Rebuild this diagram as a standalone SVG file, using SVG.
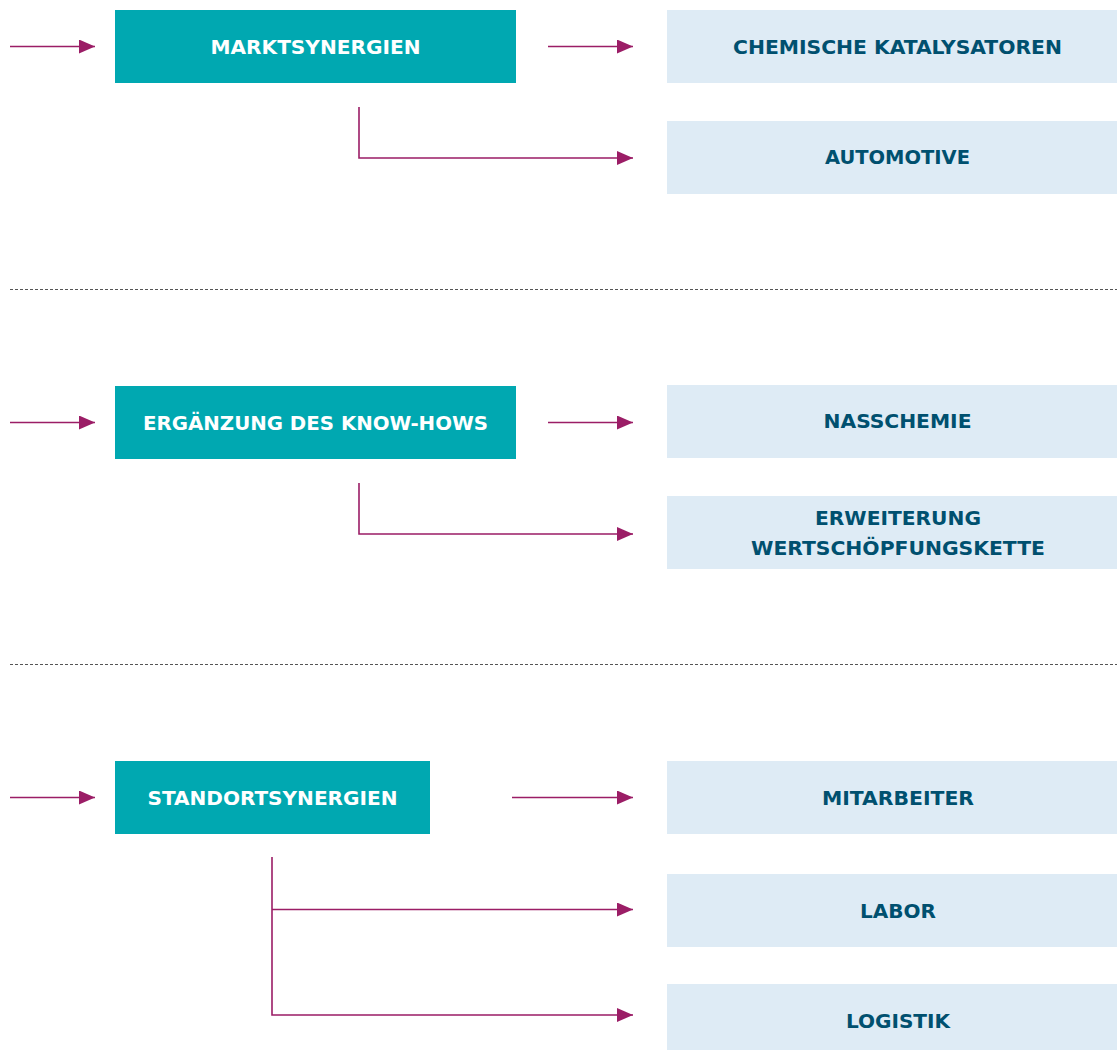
<svg xmlns="http://www.w3.org/2000/svg" width="1117" height="1050" viewBox="0 0 1117 1050">
<style>
.main{fill:#00a8b1}
.sub{fill:#deebf5}
.tw{font-family:"DejaVu Sans Condensed","DejaVu Sans",sans-serif;font-weight:bold;font-size:20px;fill:#ffffff;text-anchor:middle}
.tb{font-family:"DejaVu Sans Condensed","DejaVu Sans",sans-serif;font-weight:bold;font-size:20px;fill:#00506f;text-anchor:middle}
.ln{fill:none;stroke:#9b1d66;stroke-width:1.6}
.sep{stroke:#555;stroke-width:1;stroke-dasharray:3 2}
</style>
<defs>
<marker id="ah" markerUnits="userSpaceOnUse" markerWidth="16" markerHeight="14" refX="16" refY="7" orient="auto">
<path d="M0,0 L16,7 L0,14 Z" fill="#9b1d66"/>
</marker>
</defs>
<rect width="1117" height="1050" fill="#ffffff"/>
<g id="separators">
<line class="sep" x1="10" y1="289.5" x2="1117" y2="289.5"/>
<line class="sep" x1="10" y1="664.5" x2="1117" y2="664.5"/>
</g>
<g id="connectors">
<line class="ln" x1="10" y1="46.5" x2="95" y2="46.5" marker-end="url(#ah)"/>
<line class="ln" x1="548" y1="46.5" x2="633" y2="46.5" marker-end="url(#ah)"/>
<polyline class="ln" points="359,107 359,158 633,158" marker-end="url(#ah)"/>
<line class="ln" x1="10" y1="422.5" x2="95" y2="422.5" marker-end="url(#ah)"/>
<line class="ln" x1="548" y1="422.5" x2="633" y2="422.5" marker-end="url(#ah)"/>
<polyline class="ln" points="359,483 359,534 633,534" marker-end="url(#ah)"/>
<line class="ln" x1="10" y1="797.5" x2="95" y2="797.5" marker-end="url(#ah)"/>
<line class="ln" x1="512" y1="797.5" x2="633" y2="797.5" marker-end="url(#ah)"/>
<line class="ln" x1="272" y1="909.5" x2="633" y2="909.5" marker-end="url(#ah)"/>
<polyline class="ln" points="272,857 272,1015 633,1015" marker-end="url(#ah)"/>
</g>
<g id="marktsynergien">
<rect class="main" x="115" y="10" width="401" height="73"/>
<text class="tw" x="315.5" y="54" textLength="210" lengthAdjust="spacingAndGlyphs">MARKTSYNERGIEN</text>
</g>
<g id="chemische-katalysatoren">
<rect class="sub" x="667" y="10" width="450" height="73"/>
<text class="tb" x="897.5" y="54" textLength="329" lengthAdjust="spacingAndGlyphs">CHEMISCHE KATALYSATOREN</text>
</g>
<g id="automotive">
<rect class="sub" x="667" y="121" width="450" height="73"/>
<text class="tb" x="897.5" y="164" textLength="145" lengthAdjust="spacingAndGlyphs">AUTOMOTIVE</text>
</g>
<g id="know-how">
<rect class="main" x="115" y="386" width="401" height="73"/>
<text class="tw" x="315.5" y="430" textLength="345" lengthAdjust="spacingAndGlyphs">ERGÄNZUNG DES KNOW-HOWS</text>
</g>
<g id="nasschemie">
<rect class="sub" x="667" y="385" width="450" height="73"/>
<text class="tb" x="897.5" y="428" textLength="148" lengthAdjust="spacingAndGlyphs">NASSCHEMIE</text>
</g>
<g id="wertschoepfungskette">
<rect class="sub" x="667" y="496" width="450" height="73"/>
<text class="tb" x="898" y="525" textLength="166" lengthAdjust="spacingAndGlyphs">ERWEITERUNG</text>
<text class="tb" x="898" y="555" textLength="294" lengthAdjust="spacingAndGlyphs">WERTSCHÖPFUNGSKETTE</text>
</g>
<g id="standortsynergien">
<rect class="main" x="115" y="761" width="315" height="73"/>
<text class="tw" x="272.5" y="805" textLength="250" lengthAdjust="spacingAndGlyphs">STANDORTSYNERGIEN</text>
</g>
<g id="mitarbeiter">
<rect class="sub" x="667" y="761" width="450" height="73"/>
<text class="tb" x="898" y="805" textLength="152" lengthAdjust="spacingAndGlyphs">MITARBEITER</text>
</g>
<g id="labor">
<rect class="sub" x="667" y="874" width="450" height="73"/>
<text class="tb" x="898" y="918" textLength="76" lengthAdjust="spacingAndGlyphs">LABOR</text>
</g>
<g id="logistik">
<rect class="sub" x="667" y="984" width="450" height="66"/>
<text class="tb" x="898" y="1028" textLength="104" lengthAdjust="spacingAndGlyphs">LOGISTIK</text>
</g>
</svg>
